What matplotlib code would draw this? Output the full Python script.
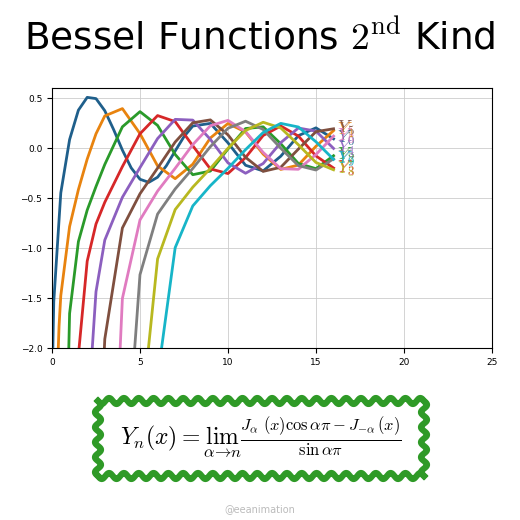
import numpy as np
import matplotlib.pyplot as plt

plt.rcParams['mathtext.fontset'] = 'cm'

# Bessel Y_n samples (read/estimated from tables), values below -2 are off-axis
xi = list(range(1, 17))
x0 = [0.05, 0.1, 0.5, 1, 1.5, 2, 2.5, 3, 3.5, 4, 4.5, 5, 5.5, 6, 6.5, 7, 7.5, 8, 9, 10, 11, 12, 13, 14, 15, 16]
y0 = [-1.981, -1.534, -0.4445, 0.0883, 0.3824, 0.5104, 0.4981, 0.3769, 0.1890, -0.0169, -0.1947, -0.3085,
      -0.3395, -0.2882, -0.1732, -0.0259, 0.1173, 0.2235, 0.2499, 0.0557, -0.1688, -0.2252, -0.0782,
      0.1272, 0.2055, 0.0956]
x1 = [0.3, 0.4, 0.5, 1, 1.5, 2, 2.5] + xi[2:]
y1 = [-2.29, -1.78, -1.4715, -0.7812, -0.4123, -0.1070, 0.1459, 0.3247, 0.3979, 0.1479, -0.1750, -0.3027,
      -0.1581, 0.1043, 0.2490, 0.1637, -0.0571, -0.2101, -0.1666, 0.0211, 0.1779]
x2 = [0.5, 1, 1.5, 2, 2.5] + xi[2:]
y2 = [-5.44, -1.6507, -0.9322, -0.6174, -0.3814, -0.1604, 0.2159, 0.3677, 0.2299, -0.0606, -0.2630, -0.2267,
      -0.0059, 0.1986, 0.2157, 0.0459, -0.1510, -0.2027, -0.0734]
x3 = [1, 1.5, 2, 2.5] + xi[2:]
y3 = [-5.82, -2.07, -1.1278, -0.7561, -0.5386, -0.1820, 0.1463, 0.3283, 0.2681, 0.0266, -0.2051, -0.2514,
      -0.0915, 0.1290, 0.2242, 0.1235, -0.0752, -0.1963]
x4 = [1.5, 2, 2.5] + xi[2:]
y4 = [-8.0, -2.766, -1.4332, -0.9168, -0.4889, -0.1921, 0.0984, 0.2904, 0.2830, 0.0900, -0.1449, -0.2485,
      -0.1512, 0.0576, 0.2039, 0.1726, -0.0002]
x5 = [2, 2.5] + xi[2:]
y5 = [-9.94, -3.83, -1.9062, -0.7958, -0.4537, -0.1971, 0.0638, 0.2564, 0.2851, 0.1355, -0.0892, -0.2298,
      -0.1888, -0.0070, 0.1673, 0.1962]
x6 = xi[2:]
y6 = [-5.437, -1.5006, -0.7153, -0.4269, -0.1993, 0.0375, 0.2268, 0.2804, 0.1674, -0.0403, -0.2028,
      -0.2089, -0.0611, 0.1228]
x7 = xi[2:]
y7 = [-19.84, -3.706, -1.2630, -0.6567, -0.4055, -0.2001, 0.0173, 0.2010, 0.2718, 0.1895, 0.0016,
      -0.1721, -0.2162, -0.1041]
x8 = xi[3:]
y8 = [-11.47, -2.8211, -1.1054, -0.6117, -0.3877, -0.1999, 0.0010, 0.1785, 0.2614, 0.2045, 0.0368,
      -0.1407, -0.2139]
x9 = xi[3:]
y9 = [-42.2, -7.764, -2.2910, -0.9927, -0.5753, -0.3727, -0.1994, -0.0122, 0.1590, 0.2501, 0.2142,
      0.0661, -0.1098]

xs = [x0, x1, x2, x3, x4, x5, x6, x7, x8, x9]
ys = [y0, y1, y2, y3, y4, y5, y6, y7, y8, y9]
colors = ['#1f5f8b', '#e8830f', '#2a9a2a', '#d62728', '#8c5fbf', '#7f4f3f', '#e07bc0', '#7f7f7f',
          '#b8b820', '#17b5c8']

fig = plt.figure(figsize=(5.2, 5.2), dpi=100)
ax = fig.add_axes([0.1, 0.33, 0.846, 0.5])
for n in range(10):
    ax.plot(xs[n], ys[n], color=colors[n], lw=2, solid_joinstyle='round')
    ax.text(16.2, ys[n][-1], '$Y_{%d}$' % n, color=colors[n], fontsize=13, va='center', alpha=0.9)
ax.set_xlim(0, 25)
ax.set_ylim(-2, 0.6)
ax.set_yticks([-2.0, -1.5, -1.0, -0.5, 0.0, 0.5])
ax.set_xticks([0, 5, 10, 15, 20, 25])
ax.tick_params(labelsize=6.5)
ax.grid(True, color='#cccccc', lw=0.6)

fig.text(0.5, 0.925, r'Bessel Functions $2^{\mathrm{nd}}$ Kind', ha='center', va='center', fontsize=27)

# wavy box around the formula
ov = fig.add_axes([0, 0, 1, 1], facecolor='none')
ov.set_xlim(0, 520)
ov.set_ylim(520, 0)
ov.axis('off')
l, r, t, b = 98, 424, 401, 476
amp = 3.0
tx = np.linspace(l, r, 400)
ov.plot(tx, t + amp * np.sin((tx - l) / (r - l) * 2 * np.pi * 22), color='#2f9a27', lw=4.5)
ov.plot(tx, b + amp * np.sin((tx - l) / (r - l) * 2 * np.pi * 22), color='#2f9a27', lw=4.5)
ty = np.linspace(t, b, 100)
ov.plot(l + amp * np.sin((ty - t) / (b - t) * 2 * np.pi * 5), ty, color='#2f9a27', lw=4.5)
ov.plot(r + amp * np.sin((ty - t) / (b - t) * 2 * np.pi * 5), ty, color='#2f9a27', lw=4.5)
ov.text(261, 438, r'$Y_n(x) = \lim_{\alpha\to n}\frac{J_\alpha\,(x)\cos\alpha\pi - J_{-\alpha}\,(x)}{\sin\alpha\pi}$',
        ha='center', va='center', fontsize=17)
ov.text(260, 509, '@eeanimation', ha='center', va='center', fontsize=7, color='#bbbbbb')

fig.savefig('out.png')
